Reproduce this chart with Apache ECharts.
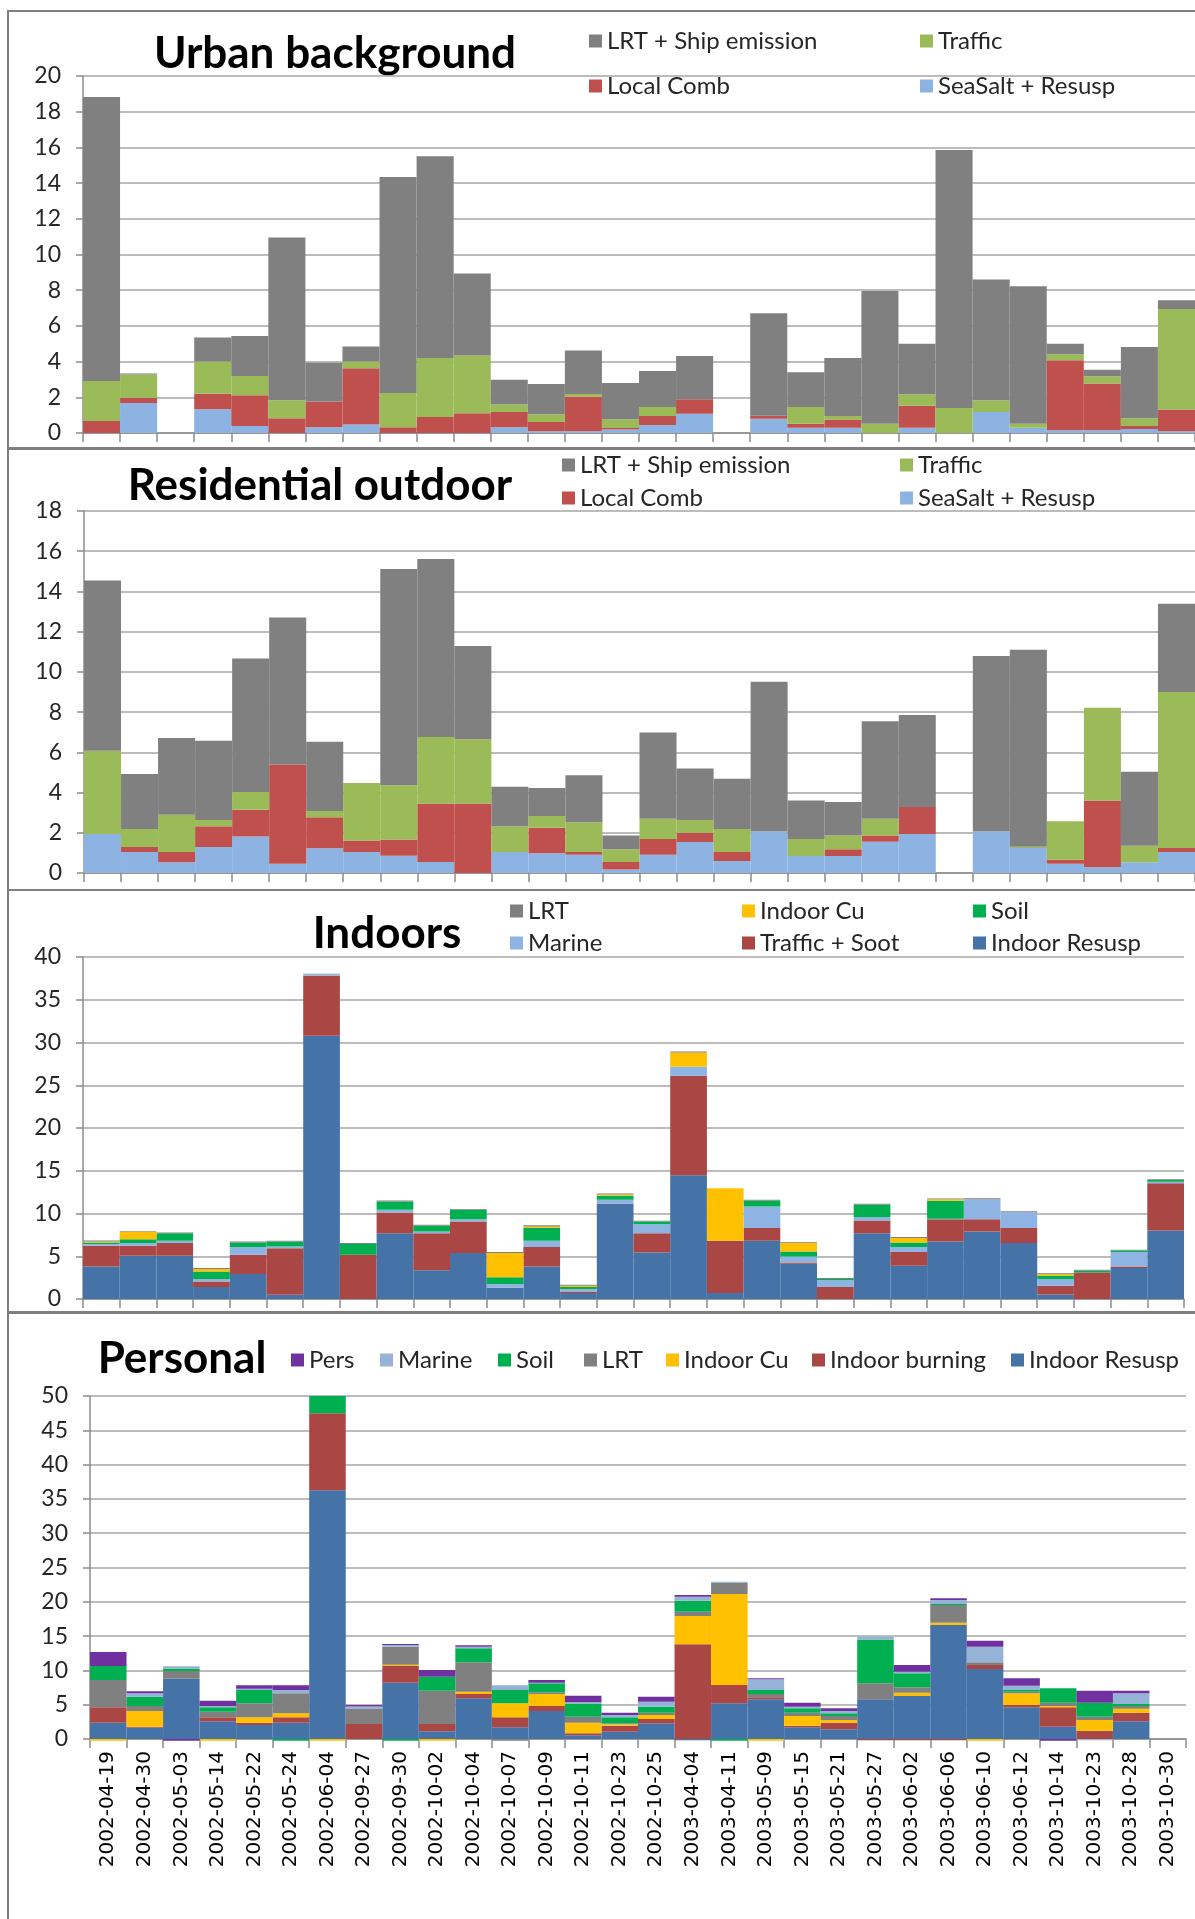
<!DOCTYPE html>
<html>
<head>
<meta charset="utf-8">
<script src="https://cdn.jsdelivr.net/npm/echarts@6/dist/echarts.min.js"></script>
<style>
html, body { margin: 0; padding: 0; background: #fff; }
#chart { width: 1195px; height: 1919px; }
</style>
</head>
<body>
<div id="chart"></div>
<script>
const dates = ['2002-04-19', '2002-04-30', '2002-05-03', '2002-05-14', '2002-05-22', '2002-05-24', '2002-06-04',
    '2002-09-27', '2002-09-30', '2002-10-02', '2002-10-04', '2002-10-07', '2002-10-09', '2002-10-11', '2002-10-23',
    '2002-10-25', '2003-04-04', '2003-04-11', '2003-05-09', '2003-05-15', '2003-05-21', '2003-05-27', '2003-06-02',
    '2003-06-06', '2003-06-10', '2003-06-12', '2003-10-14', '2003-10-23', '2003-10-28', '2003-10-30']

// y axis of each panel: max and step (min is 0)
const yMax = [20, 18, 40, 50]
const yStep = [2, 2, 5, 5]

// Urban background
const ubSeaSalt = [0, 1.68, 0, 1.33, 0.39, 0, 0.32, 0.47, 0, 0, 0, 0.32, 0.1, 0.1, 0.19, 0.45, 1.08, 0, 0.8, 0.3, 0.3, 0, 0.3, 0, 1.18, 0.3, 0.15, 0.15, 0.22, 0.1]
const ubLocalComb = [0.67, 0.3, 0, 0.87, 1.72, 0.82, 1.44, 3.16, 0.32, 0.9, 1.1, 0.86, 0.52, 1.95, 0.09, 0.5, 0.81, 0, 0.17, 0.22, 0.45, 0, 1.23, 0, 0, 0, 3.92, 2.62, 0.17, 1.21]
const ubTraffic = [2.25, 1.3, 0, 1.8, 1.09, 1.01, 0, 0.37, 1.92, 3.3, 3.24, 0.42, 0.43, 0.14, 0.49, 0.51, 0, 0, 0, 0.94, 0.2, 0.52, 0.64, 1.4, 0.65, 0.22, 0.34, 0.41, 0.43, 5.64]
const ubLRT = [15.9, 0.06, 0, 1.35, 2.24, 9.12, 2.17, 0.84, 12.1, 11.3, 4.59, 1.39, 1.7, 2.43, 2.03, 2.02, 2.43, 0, 5.74, 1.94, 3.25, 7.44, 2.83, 14.45, 6.77, 7.7, 0.59, 0.37, 4.0, 0.49]

// Residential outdoor
const roSeaSalt = [1.94, 1.04, 0.53, 1.29, 1.81, 0.46, 1.23, 1.04, 0.86, 0.55, 0, 1.04, 0.98, 0.91, 0.17, 0.91, 1.54, 0.6, 2.07, 0.85, 0.85, 1.56, 1.94, 0, 2.07, 1.24, 0.46, 0.28, 0.53, 1.04]
const roLocalComb = [0, 0.25, 0.51, 1.03, 1.34, 4.93, 1.54, 0.57, 0.81, 2.91, 3.46, 0, 1.27, 0.13, 0.38, 0.78, 0.46, 0.44, 0, 0, 0.33, 0.31, 1.34, 0, 0, 0, 0.2, 3.32, 0, 0.2]
const roTraffic = [4.14, 0.9, 1.86, 0.32, 0.88, 0, 0.31, 2.87, 2.69, 3.3, 3.19, 1.28, 0.58, 1.48, 0.63, 1.01, 0.64, 1.15, 0, 0.84, 0.69, 0.83, 0, 0, 0, 0.07, 1.91, 4.62, 0.83, 7.76]
const roLRT = [8.46, 2.73, 3.81, 3.94, 6.63, 7.31, 3.45, 0, 10.76, 8.85, 4.64, 1.97, 1.4, 2.34, 0.69, 4.28, 2.55, 2.5, 7.44, 1.91, 1.66, 4.84, 4.58, 0, 8.72, 9.79, 0, 0, 3.68, 4.39]

// Indoors
const inResusp = [3.81, 5.06, 5.06, 1.4, 2.92, 0.5, 30.78, 0, 7.7, 3.35, 5.37, 1.28, 3.81, 0.7, 11.13, 5.45, 14.47, 0.7, 6.81, 4.12, 0, 7.7, 3.89, 6.73, 7.9, 6.54, 0.54, 0, 3.62, 8.02]
const inTrafficSoot = [2.42, 1.17, 1.48, 0.66, 2.25, 5.45, 7.04, 5.17, 2.42, 4.35, 3.7, 0.05, 2.26, 0.19, 0.05, 2.25, 11.64, 6.11, 1.48, 0.16, 1.4, 1.48, 1.6, 2.61, 1.44, 1.75, 1.02, 3.11, 0.19, 5.52]
const inMarine = [0.19, 0.31, 0.26, 0.27, 0.9, 0.2, 0.16, 0, 0.31, 0.2, 0.27, 0.42, 0.74, 0.28, 0.42, 1.05, 1.05, 0, 2.53, 0.7, 0.78, 0.39, 0.58, 0.05, 2.33, 1.87, 0.77, 0, 1.68, 0.16]
const inSoil = [0.19, 0.46, 0.9, 0.9, 0.54, 0.58, 0, 1.25, 0.97, 0.66, 1.09, 0.78, 1.48, 0.23, 0.47, 0.32, 0, 0, 0.66, 0.58, 0.15, 1.44, 0.54, 2.09, 0, 0, 0.43, 0.2, 0.19, 0.23]
const inCu = [0.12, 0.9, 0, 0.27, 0, 0, 0, 0, 0, 0, 0, 2.84, 0.19, 0.16, 0.16, 0, 1.67, 6.15, 0, 0.98, 0, 0, 0.51, 0.19, 0, 0, 0.2, 0, 0, 0]
const inLRT = [0.12, 0.05, 0.08, 0.12, 0.12, 0.07, 0.06, 0.12, 0.12, 0.12, 0.11, 0.12, 0.16, 0.11, 0.11, 0.07, 0.12, 0, 0.12, 0.11, 0.12, 0.12, 0.12, 0.08, 0.12, 0.11, 0.08, 0.11, 0.08, 0.07]

// Personal
const peResusp = [2.38, 1.65, 8.8, 2.58, 2.04, 2.38, 36.25, 0, 8.21, 1.12, 5.93, 1.7, 4.08, 0.53, 1.07, 2.28, -0.2, 5.2, 5.78, 1.7, 1.41, 5.78, 6.27, 16.62, 10.2, 4.62, 1.8, 0, 2.58, 0]
const peBurning = [2.24, 0.15, 0, 0.58, 0.34, 0.78, 11.22, 2.19, 2.43, 1.07, 0.63, 1.46, 0.73, 0.29, 0.87, 0.63, 13.8, 2.67, 0.29, 0.24, 0.97, -0.2, -0.2, -0.2, 0.58, 0.34, 2.82, 1.21, 1.26, 0]
const peCu = [-0.25, 2.28, 0, -0.25, 0.78, 0.58, -0.25, 0, 0.19, -0.25, 0.34, 2.04, 1.75, 1.55, 0.2, 0.58, 4.13, 13.27, -0.25, 1.41, 0.39, 0, 0.49, 0.34, -0.25, 1.7, 0.19, 1.56, 0.58, 0]
const peLRT = [3.98, 0.73, 1.12, 0.83, 2.04, 2.92, 0, 2.19, 2.62, 4.86, 4.28, -0.25, 0.24, 0.87, 0.15, 0.34, 0.63, 1.65, 0.49, 0.49, 0.58, 2.33, 0.78, 2.58, 0.39, 0.24, 0.49, 0.49, 0.39, 0]
const peSoil = [2.04, 1.36, 0.34, 0.63, 1.94, -0.25, 2.53, 0, -0.25, 2.04, 2.04, 1.94, 1.31, 1.94, 0.87, 0.87, 1.6, -0.25, 0.58, 0.63, 0.39, 6.41, 2.04, 0.15, 0, 0.24, 2.09, 2.04, 0.29, 0]
const peMarine = [0, 0.49, 0.34, 0.19, 0.19, 0.49, 0, 0.34, 0.24, 0, 0.24, 0.68, 0.1, 0.19, 0.34, 0.73, 0.58, 0.15, 1.56, 0.24, 0.34, 0.39, 0.24, 0.58, 2.28, 0.63, 0, -0.2, 1.56, 0]
const pePers = [2.04, 0.29, -0.25, 0.78, 0.49, 0.68, 0, 0.24, 0.15, 0.97, 0.19, 0, 0.39, 0.92, 0.34, 0.73, 0.25, 0, 0.15, 0.58, 0.39, 0, 0.97, 0.24, 0.87, 1.07, -0.25, 1.75, 0.39, 0]

const GRAY = '#808080'
const FONT = 'Lato'
const TEXT = '#262626'

// stacks, bottom first: [name, data, colour, legend x, legend y]
const panels = [
    {
        title: 'Urban background', tx: 335, ty: 54,
        grid: { left: 83, top: 76, width: 1112, height: 357 },
        items: [
            ['SeaSalt + Resusp', ubSeaSalt, '#8db3e2', 920, 86],
            ['Local Comb', ubLocalComb, '#c0504d', 589, 86],
            ['Traffic', ubTraffic, '#9bbb59', 920, 41],
            ['LRT + Ship emission', ubLRT, GRAY, 589, 41]
        ]
    },
    {
        title: 'Residential outdoor', tx: 320, ty: 486,
        grid: { left: 84, top: 511, width: 1111, height: 362 },
        items: [
            ['SeaSalt + Resusp', roSeaSalt, '#8db3e2', 900, 498],
            ['Local Comb', roLocalComb, '#c0504d', 562, 498],
            ['Traffic', roTraffic, '#9bbb59', 900, 465],
            ['LRT + Ship emission', roLRT, GRAY, 562, 465]
        ]
    },
    {
        title: 'Indoors', tx: 387, ty: 934,
        grid: { left: 83, top: 957, width: 1101, height: 342 },
        items: [
            ['Indoor Resusp', inResusp, '#4572a7', 973, 943],
            ['Traffic + Soot', inTrafficSoot, '#aa4643', 742, 943],
            ['Marine', inMarine, '#8eb4e3', 510, 943],
            ['Soil', inSoil, '#00b050', 973, 911],
            ['Indoor Cu', inCu, '#ffc000', 742, 911],
            ['LRT', inLRT, GRAY, 510, 911]
        ]
    },
    {
        title: 'Personal', tx: 182, ty: 1359,
        grid: { left: 90, top: 1396, width: 1096, height: 343 },
        items: [
            ['Indoor Resusp', peResusp, '#4572a7', 1011, 1360],
            ['Indoor burning', peBurning, '#aa4643', 812, 1360],
            ['Indoor Cu', peCu, '#ffc000', 666, 1360],
            ['LRT', peLRT, GRAY, 584, 1360],
            ['Soil', peSoil, '#00b050', 498, 1360],
            ['Marine', peMarine, '#95b3d7', 380, 1360],
            ['Pers', pePers, '#7030a0', 291, 1360]
        ]
    }
]

const grid = [], xAxis = [], yAxis = [], series = [], legend = [], graphic = []
const boxes = [[8, 11, 437], [8, 449, 441], [8, 890, 422], [8, 1313, 620]]

panels.forEach((p, i) => {
    grid.push(p.grid)
    xAxis.push({
        type: 'category',
        gridIndex: i,
        data: dates,
        axisLine: { lineStyle: { color: '#8c8c8c', width: 1.5 } },
        axisTick: { show: true, interval: 0, length: 9, lineStyle: { color: '#8c8c8c', width: 1.5 } },
        axisLabel: i === 3
            ? { show: true, interval: 0, rotate: 90, margin: 12, fontFamily: 'DejaVu Sans', fontSize: 20, color: '#000' }
            : { show: false },
        splitLine: { show: false }
    })
    yAxis.push({
        type: 'value',
        gridIndex: i,
        min: 0,
        max: yMax[i],
        interval: yStep[i],
        axisLine: { show: true, lineStyle: { color: '#8c8c8c', width: 1.5 } },
        axisTick: { show: true, length: 7, lineStyle: { color: '#8c8c8c', width: 1.5 } },
        axisLabel: { margin: 22, fontFamily: FONT, fontSize: 23, color: TEXT },
        splitLine: { lineStyle: { color: '#a6a6a6', width: 1.5 } }
    })
    p.items.forEach(it => {
        series.push({
            name: it[0],
            type: 'bar',
            xAxisIndex: i,
            yAxisIndex: i,
            stack: 'p' + i,
            data: it[1],
            barCategoryGap: '0%',
            clip: false,
            itemStyle: { color: it[2] },
            emphasis: { disabled: true }
        })
        legend.push({
            data: [{ name: it[0], itemStyle: { color: it[2] } }],
            left: it[3],
            top: it[4] - 12,
            padding: 0,
            icon: 'rect',
            itemWidth: 13,
            itemHeight: 13,
            selectedMode: false,
            textStyle: { fontFamily: FONT, fontSize: 24, color: TEXT, padding: [0, 0, 0, 0] }
        })
    })
    graphic.push({
        type: 'rect',
        shape: { x: boxes[i][0], y: boxes[i][1], width: 1300, height: boxes[i][2] },
        style: { fill: 'none', stroke: '#7f7f7f', lineWidth: 2 },
        silent: true
    })
    graphic.push({
        type: 'text',
        x: p.tx,
        y: p.ty,
        style: {
            text: p.title,
            font: 'bold 44px Lato',
            fill: '#000',
            align: 'center',
            verticalAlign: 'middle'
        },
        silent: true
    })
})

const chart = echarts.init(document.getElementById('chart'))
chart.setOption({
    animation: false,
    backgroundColor: '#fff',
    grid,
    xAxis,
    yAxis,
    legend,
    series,
    graphic
})
</script>
</body>
</html>
